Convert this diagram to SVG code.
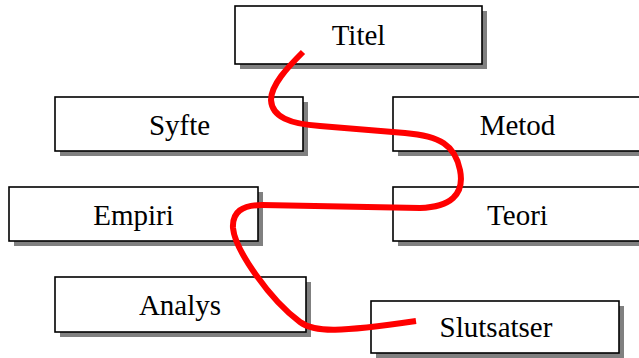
<svg xmlns="http://www.w3.org/2000/svg" width="639" height="358" viewBox="0 0 639 358">
<style>
.sh{fill:#808080}
.bx{fill:#fff;stroke:#000;stroke-width:1.6}
.t{font-family:"Liberation Serif","Times New Roman",serif;font-size:29px;fill:#000;text-anchor:middle}
.c{fill:none;stroke:#ff0000;stroke-width:6;stroke-linecap:butt}
</style>
<rect width="639" height="358" fill="#fff"/>
<g id="titel"><rect class="sh" x="240" y="11" width="247" height="58"/><rect class="bx" x="235" y="6" width="247" height="58"/><text class="t" x="358.5" y="45">Titel</text></g>
<g id="syfte"><rect class="sh" x="60" y="102" width="248" height="54"/><rect class="bx" x="55" y="97" width="248" height="54"/><text class="t" x="179.5" y="135">Syfte</text></g>
<g id="metod"><rect class="sh" x="398" y="102" width="250" height="54"/><rect class="bx" x="393" y="97" width="250" height="54"/><text class="t" x="517.5" y="135">Metod</text></g>
<g id="empiri"><rect class="sh" x="14" y="192" width="249" height="54"/><rect class="bx" x="9" y="187" width="249" height="54"/><text class="t" x="133.5" y="225">Empiri</text></g>
<g id="teori"><rect class="sh" x="398" y="192" width="250" height="54"/><rect class="bx" x="393" y="187" width="250" height="54"/><text class="t" x="517.5" y="225">Teori</text></g>
<g id="analys"><rect class="sh" x="60" y="282" width="251" height="55"/><rect class="bx" x="55" y="277" width="251" height="55"/><text class="t" x="180" y="315">Analys</text></g>
<g id="slutsatser"><rect class="sh" x="376" y="306" width="248" height="52"/><rect class="bx" x="371" y="301" width="248" height="52"/><text class="t" x="496" y="337">Slutsatser</text></g>
<g id="connectors">
<path class="c" d="M303,52 C287,68 271,85 271,100 C272,117 290,124 320,126 L405,133 C440,136 455,145 460,170 C465,195 450,207 420,208 L262,205 C242,205 232,212 233,228 C235,250 270,300 300,322 C315,333 340,332 416,321"/>
</g>
</svg>
